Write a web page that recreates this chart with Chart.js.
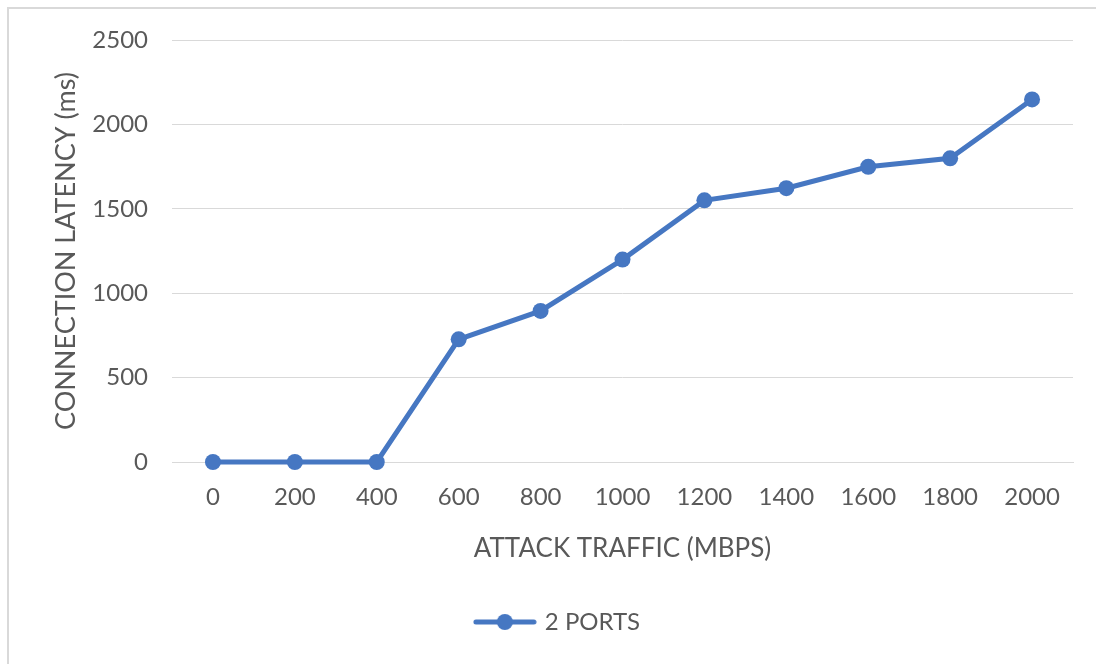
<!DOCTYPE html>
<html>
<head>
<meta charset="utf-8">
<script src="https://cdn.jsdelivr.net/npm/chart.js@4/dist/chart.umd.min.js"></script>
<style>
  html, body { margin: 0; padding: 0; background: #ffffff; overflow: hidden; }
  #frame { position: absolute; left: 7px; top: 7px; width: 1200px; height: 800px; border: 2px solid #d9d9d9; }
  #wrap { position: absolute; left: 0; top: 0; width: 1096px; height: 664px; }
</style>
</head>
<body>
<div id="frame"></div>
<div id="wrap"><canvas id="chart" width="1096" height="664"></canvas></div>
<script>
// Attack traffic levels (Mbps) on the x axis
const trafficLevels = ['0', '200', '400', '600', '800', '1000', '1200', '1400', '1600', '1800', '2000'];
// Connection latency (ms) measured with 2 ports
const latency2Ports = [0, 0, 0, 727, 895, 1199, 1550, 1622, 1749, 1799, 2148];
const seriesName = '2 PORTS';
const yTicks = [0, 500, 1000, 1500, 2000, 2500];

const lineColor = '#4677c2';
const textColor = '#595959';
const gridColor = '#d9d9d9';
const fontFamily = "Lato, 'Open Sans', sans-serif";

// Legend swatch: a short line with a round marker in the middle
function legendSwatch() {
  const c = document.createElement('canvas');
  c.width = 64; c.height = 20;
  const g = c.getContext('2d');
  g.strokeStyle = lineColor;
  g.lineWidth = 5;
  g.lineCap = 'round';
  g.beginPath(); g.moveTo(3, 10); g.lineTo(61, 10); g.stroke();
  g.fillStyle = lineColor;
  g.beginPath(); g.arc(32, 10, 8, 0, Math.PI * 2); g.fill();
  return c;
}
const swatch = legendSwatch();

new Chart(document.getElementById('chart'), {
  type: 'line',
  data: {
    labels: trafficLevels,
    datasets: [{
      label: seriesName,
      data: latency2Ports,
      borderColor: lineColor,
      backgroundColor: lineColor,
      borderWidth: 5,
      pointRadius: 8,
      pointHoverRadius: 8,
      pointBorderWidth: 0,
      tension: 0,
      clip: false
    }]
  },
  options: {
    responsive: false,
    animation: false,
    layout: { padding: { left: 44, right: 23, top: 40, bottom: 20 } },
    plugins: {
      tooltip: { enabled: false },
      legend: {
        position: 'bottom',
        labels: {
          usePointStyle: true,
          pointStyleWidth: 56,
          boxHeight: 20,
          color: textColor,
          font: { family: fontFamily, size: 24 },
          padding: 10,
          generateLabels: (chart) => chart.data.datasets.map((ds, i) => ({
            text: ds.label,
            pointStyle: swatch,
            fillStyle: lineColor,
            strokeStyle: lineColor,
            lineWidth: 0,
            fontColor: textColor,
            datasetIndex: i,
            hidden: false
          }))
        }
      }
    },
    scales: {
      x: {
        type: 'category',
        offset: true,
        grid: { display: false, drawTicks: false },
        border: { display: true, color: gridColor, width: 1 },
        ticks: { color: textColor, font: { family: fontFamily, size: 24 }, padding: 21, maxRotation: 0 },
        title: {
          display: true,
          text: 'ATTACK TRAFFIC (MBPS)',
          color: textColor,
          font: { family: fontFamily, size: 26 },
          padding: { top: 0, bottom: 36 }
        }
      },
      y: {
        min: 0,
        max: 2500,
        afterBuildTicks: (scale) => { scale.ticks = yTicks.map(v => ({ value: v })); },
        afterFit: (scale) => { scale.width = 128; },
        grid: { color: gridColor, lineWidth: 1, drawTicks: false },
        border: { display: false },
        ticks: {
          color: textColor,
          font: { family: fontFamily, size: 24 },
          padding: 24,
          callback: (v) => String(v)
        },
        title: {
          display: true,
          text: 'CONNECTION LATENCY (ms)',
          color: textColor,
          font: { family: fontFamily, size: 27 },
          padding: { top: 6, bottom: 0 }
        }
      }
    }
  }
});
</script>
</body>
</html>
